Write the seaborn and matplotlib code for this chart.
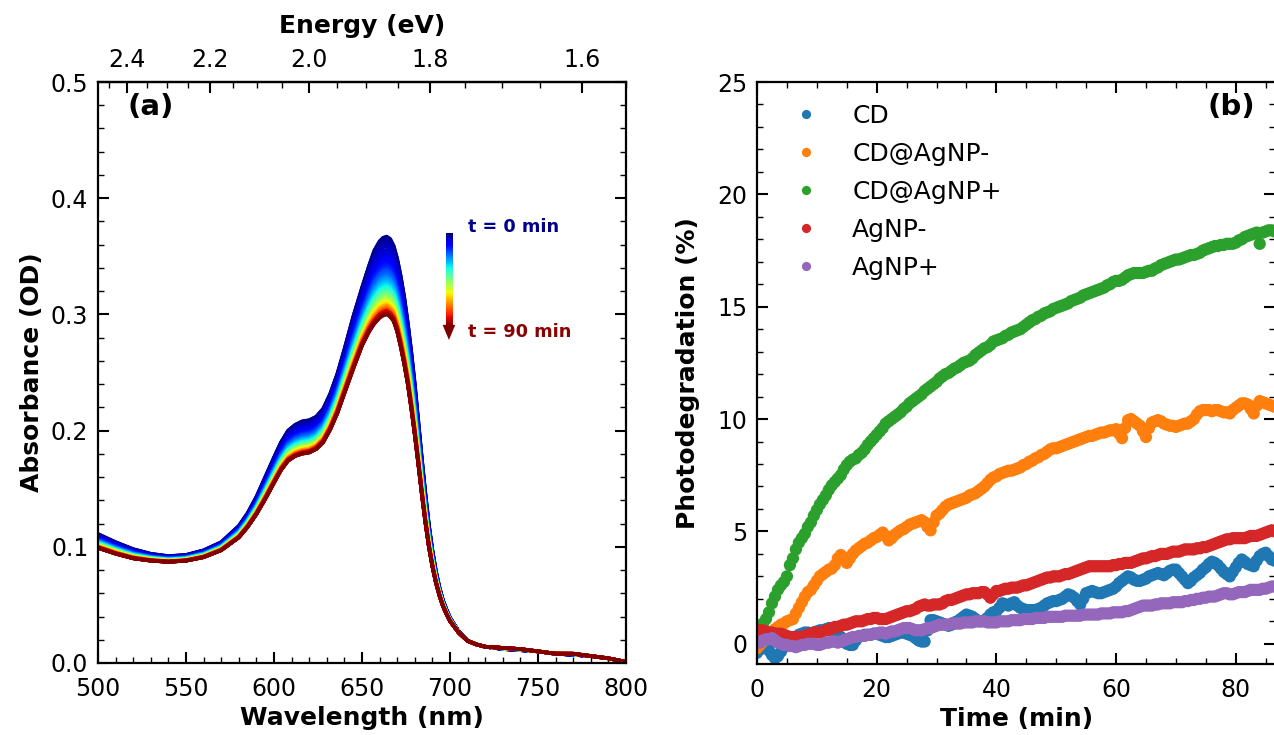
import numpy as np
import pandas as pd
import matplotlib
matplotlib.use("Agg")
import matplotlib.pyplot as plt
from matplotlib.ticker import MultipleLocator, FormatStrFormatter
from matplotlib.patches import Polygon
import seaborn as sns

# ---------------- data: panel (a) ----------------
wavelength = [500, 510, 520, 530, 540, 550, 560, 570, 580, 585, 590, 595, 600, 604, 608, 612,
              616, 620, 624, 628, 632, 636, 640, 645, 650, 654, 657, 660, 662, 664, 666, 668,
              670, 672, 674, 676, 678, 680, 682, 684, 686, 688, 690, 692, 694, 696, 698, 700,
              705, 710, 715, 720, 730, 740, 750, 760, 770, 780, 790, 800]
abs_t0 = [0.111, 0.104, 0.098, 0.094, 0.092, 0.093, 0.097, 0.104, 0.118, 0.129, 0.143, 0.160,
          0.177, 0.190, 0.200, 0.205, 0.208, 0.209, 0.212, 0.219, 0.232, 0.249, 0.270, 0.298,
          0.323, 0.342, 0.355, 0.363, 0.366, 0.367, 0.365, 0.359, 0.348, 0.333, 0.315, 0.293,
          0.268, 0.240, 0.208, 0.176, 0.146, 0.119, 0.097, 0.079, 0.065, 0.054, 0.046, 0.039,
          0.027, 0.019, 0.016, 0.014, 0.012, 0.011, 0.010, 0.008, 0.007, 0.006, 0.004, 0.001]
abs_t90 = [0.099, 0.094, 0.090, 0.088, 0.087, 0.088, 0.091, 0.097, 0.108, 0.117, 0.128, 0.141,
           0.155, 0.166, 0.174, 0.178, 0.180, 0.181, 0.184, 0.190, 0.201, 0.215, 0.232, 0.253,
           0.273, 0.285, 0.292, 0.297, 0.299, 0.300, 0.298, 0.294, 0.285, 0.272, 0.257, 0.240,
           0.219, 0.196, 0.171, 0.145, 0.121, 0.100, 0.083, 0.069, 0.058, 0.049, 0.042, 0.036,
           0.026, 0.019, 0.016, 0.014, 0.013, 0.012, 0.010, 0.008, 0.008, 0.006, 0.004, 0.001]

# ---------------- data: panel (b) (one reading every 0.5 min) ----------------
time_min = [i * 0.5 for i in range(181)]
cd = [
    -0.4, -0.25, -0.1, -0.15, -0.3, -0.5, -0.65, -0.55, -0.35, -0.15,
    0.0, 0.1, 0.2, 0.3, 0.4, 0.45, 0.5, 0.5, 0.45, 0.5,
    0.55, 0.6, 0.6, 0.65, 0.7, 0.6, 0.5, 0.4, 0.3, 0.15,
    0.0, -0.05, -0.05, 0.15, 0.3, 0.35, 0.4, 0.4, 0.4, 0.45,
    0.45, 0.4, 0.35, 0.3, 0.3, 0.35, 0.4, 0.45, 0.5, 0.5,
    0.45, 0.4, 0.35, 0.25, 0.15, 0.1, 0.1, 0.6, 1.05, 1.05,
    1.0, 0.95, 0.9, 0.85, 0.8, 0.85, 0.95, 1.0, 1.1, 1.2,
    1.3, 1.25, 1.2, 1.1, 1.0, 1.0, 1.05, 1.15, 1.3, 1.4,
    1.45, 1.6, 1.8, 1.75, 1.7, 1.8, 1.85, 1.7, 1.6, 1.55,
    1.5, 1.5, 1.5, 1.5, 1.55, 1.6, 1.7, 1.8, 1.85, 1.9,
    1.9, 1.95, 2.0, 2.1, 2.2, 2.15, 2.05, 1.9, 1.75, 2.0,
    2.25, 2.3, 2.35, 2.3, 2.25, 2.25, 2.3, 2.35, 2.4, 2.45,
    2.55, 2.7, 2.8, 2.9, 3.0, 2.95, 2.85, 2.8, 2.8, 2.85,
    2.9, 3.0, 3.05, 3.1, 3.15, 3.1, 3.05, 3.15, 3.25, 3.3,
    3.3, 3.15, 3.0, 2.85, 2.7, 2.8, 2.95, 3.05, 3.15, 3.3,
    3.4, 3.55, 3.65, 3.6, 3.5, 3.35, 3.2, 3.1, 3.0, 3.2,
    3.4, 3.6, 3.75, 3.65, 3.55, 3.5, 3.45, 3.7, 3.9, 4.0,
    4.05, 3.9, 3.75, 3.7, 3.65, 3.7, 3.8, 3.75, 3.7, 3.7,
    3.75]
cd_agnp_minus = [
    -0.2, -0.05, 0.1, 0.3, 0.4, 0.55, 0.65, 0.75, 0.85, 0.9,
    1.0, 1.05, 1.1, 1.35, 1.6, 1.85, 2.1, 2.3, 2.4, 2.6,
    2.8, 3.0, 3.1, 3.2, 3.3, 3.35, 3.5, 3.8, 3.95, 3.85,
    3.6, 3.8, 4.0, 4.15, 4.25, 4.35, 4.45, 4.5, 4.6, 4.7,
    4.75, 4.85, 4.95, 4.8, 4.6, 4.7, 4.85, 4.95, 5.05, 5.1,
    5.2, 5.3, 5.35, 5.4, 5.45, 5.5, 5.4, 5.2, 5.05, 5.4,
    5.7, 5.8, 5.95, 6.1, 6.2, 6.25, 6.3, 6.35, 6.4, 6.45,
    6.5, 6.6, 6.65, 6.7, 6.8, 6.9, 7.0, 7.15, 7.3, 7.4,
    7.45, 7.55, 7.6, 7.65, 7.7, 7.7, 7.75, 7.8, 7.85, 7.95,
    8.0, 8.1, 8.15, 8.25, 8.3, 8.4, 8.45, 8.55, 8.65, 8.7,
    8.7, 8.75, 8.8, 8.85, 8.9, 8.95, 9.0, 9.05, 9.1, 9.15,
    9.2, 9.25, 9.25, 9.3, 9.35, 9.4, 9.4, 9.45, 9.5, 9.5,
    9.55, 9.35, 9.15, 9.6, 9.95, 10.0, 9.9, 9.8, 9.7, 9.45,
    9.2, 9.6, 9.85, 9.9, 9.95, 9.9, 9.8, 9.75, 9.7, 9.7,
    9.65, 9.7, 9.75, 9.8, 9.8, 9.9, 10.0, 10.2, 10.35, 10.4,
    10.4, 10.4, 10.35, 10.4, 10.4, 10.35, 10.3, 10.3, 10.25, 10.4,
    10.5, 10.6, 10.7, 10.7, 10.65, 10.45, 10.25, 10.6, 10.8, 10.75,
    10.7, 10.65, 10.6, 10.55, 10.5, 10.6, 10.65, 10.7, 10.7, 10.65,
    10.6]
cd_agnp_plus = [
    0.8, 0.75, 0.9, 1.1, 1.4, 1.8, 2.1, 2.4, 2.6, 2.75,
    3.0, 3.5, 3.8, 4.2, 4.5, 4.7, 4.9, 5.2, 5.4, 5.7,
    5.95, 6.2, 6.4, 6.6, 6.85, 7.05, 7.2, 7.35, 7.5, 7.75,
    7.95, 8.1, 8.2, 8.25, 8.4, 8.5, 8.65, 8.85, 9.0, 9.15,
    9.3, 9.45, 9.6, 9.8, 9.9, 10.0, 10.1, 10.2, 10.3, 10.45,
    10.55, 10.7, 10.8, 10.9, 11.0, 11.1, 11.25, 11.35, 11.45, 11.55,
    11.65, 11.8, 11.9, 12.0, 12.05, 12.15, 12.25, 12.3, 12.4, 12.5,
    12.55, 12.6, 12.7, 12.85, 12.95, 13.05, 13.15, 13.2, 13.3, 13.45,
    13.5, 13.55, 13.6, 13.7, 13.75, 13.85, 13.9, 13.95, 14.0, 14.1,
    14.2, 14.3, 14.4, 14.45, 14.55, 14.6, 14.7, 14.75, 14.8, 14.9,
    14.95, 15.0, 15.05, 15.1, 15.15, 15.25, 15.3, 15.35, 15.4, 15.5,
    15.55, 15.6, 15.65, 15.7, 15.75, 15.8, 15.85, 15.95, 16.0, 16.1,
    16.15, 16.15, 16.2, 16.3, 16.4, 16.45, 16.5, 16.5, 16.5, 16.5,
    16.55, 16.6, 16.6, 16.7, 16.75, 16.85, 16.9, 16.95, 17.0, 17.05,
    17.1, 17.1, 17.15, 17.2, 17.25, 17.3, 17.3, 17.35, 17.4, 17.5,
    17.55, 17.6, 17.65, 17.7, 17.7, 17.75, 17.75, 17.8, 17.8, 17.8,
    17.85, 17.95, 18.0, 18.1, 18.15, 18.2, 18.25, 18.3, 17.8, 18.3,
    18.35, 18.4, 18.4, 18.35, 18.3, 18.4, 18.45, 18.5, 18.5, 18.55,
    18.6]
agnp_minus = [
    0.55, 0.6, 0.6, 0.55, 0.5, 0.5, 0.45, 0.45, 0.45, 0.4,
    0.35, 0.3, 0.3, 0.3, 0.3, 0.3, 0.35, 0.4, 0.45, 0.5,
    0.5, 0.5, 0.55, 0.6, 0.6, 0.7, 0.75, 0.75, 0.8, 0.85,
    0.85, 0.9, 0.95, 1.0, 1.0, 1.0, 1.05, 1.1, 1.1, 1.15,
    1.15, 1.1, 1.1, 1.1, 1.15, 1.2, 1.25, 1.3, 1.35, 1.4,
    1.45, 1.45, 1.5, 1.55, 1.65, 1.7, 1.75, 1.7, 1.7, 1.75,
    1.75, 1.75, 1.8, 1.9, 1.95, 1.95, 2.0, 2.05, 2.1, 2.15,
    2.2, 2.2, 2.25, 2.25, 2.25, 2.3, 2.3, 2.2, 2.05, 2.2,
    2.35, 2.35, 2.4, 2.45, 2.45, 2.5, 2.5, 2.5, 2.55, 2.6,
    2.6, 2.65, 2.7, 2.75, 2.8, 2.85, 2.9, 2.95, 2.95, 3.0,
    3.0, 3.0, 3.05, 3.1, 3.1, 3.15, 3.2, 3.25, 3.3, 3.35,
    3.4, 3.45, 3.45, 3.45, 3.45, 3.45, 3.45, 3.45, 3.45, 3.5,
    3.5, 3.55, 3.55, 3.6, 3.6, 3.6, 3.65, 3.7, 3.75, 3.8,
    3.8, 3.85, 3.9, 3.9, 3.95, 4.0, 4.0, 4.0, 4.05, 4.1,
    4.1, 4.1, 4.15, 4.2, 4.2, 4.2, 4.2, 4.25, 4.25, 4.3,
    4.3, 4.35, 4.4, 4.45, 4.5, 4.55, 4.6, 4.65, 4.65, 4.7,
    4.7, 4.7, 4.7, 4.7, 4.75, 4.8, 4.8, 4.8, 4.85, 4.9,
    4.95, 5.0, 5.05, 5.0, 5.0, 5.05, 5.1, 5.15, 5.15, 5.2,
    5.2]
agnp_plus = [
    0.1, 0.05, 0.15, 0.2, 0.2, 0.25, 0.15, 0.05, 0.0, -0.05,
    -0.05, -0.1, -0.1, -0.15, -0.1, -0.05, -0.05, 0.0, 0.0, 0.0,
    -0.05, -0.05, 0.0, 0.05, 0.05, 0.1, 0.1, 0.05, 0.1, 0.15,
    0.2, 0.25, 0.3, 0.3, 0.35, 0.35, 0.35, 0.4, 0.4, 0.45,
    0.45, 0.5, 0.5, 0.45, 0.5, 0.55, 0.55, 0.6, 0.65, 0.7,
    0.7, 0.7, 0.65, 0.6, 0.6, 0.6, 0.65, 0.7, 0.7, 0.75,
    0.8, 0.85, 0.85, 0.85, 0.85, 0.9, 0.9, 0.9, 0.9, 0.95,
    0.95, 0.95, 0.95, 1.0, 1.0, 1.0, 1.0, 0.95, 0.95, 0.95,
    0.95, 1.0, 1.0, 1.0, 1.0, 1.05, 1.05, 1.05, 1.05, 1.1,
    1.1, 1.1, 1.1, 1.15, 1.15, 1.15, 1.15, 1.2, 1.2, 1.2,
    1.2, 1.2, 1.2, 1.25, 1.25, 1.25, 1.25, 1.25, 1.25, 1.3,
    1.3, 1.3, 1.3, 1.3, 1.3, 1.35, 1.35, 1.35, 1.35, 1.4,
    1.4, 1.4, 1.4, 1.45, 1.45, 1.5, 1.55, 1.6, 1.65, 1.7,
    1.7, 1.7, 1.7, 1.75, 1.75, 1.8, 1.8, 1.8, 1.8, 1.85,
    1.85, 1.85, 1.85, 1.9, 1.9, 1.95, 1.95, 2.0, 2.0, 2.05,
    2.05, 2.1, 2.1, 2.1, 2.15, 2.2, 2.25, 2.25, 2.2, 2.2,
    2.25, 2.3, 2.3, 2.3, 2.35, 2.4, 2.4, 2.4, 2.4, 2.45,
    2.45, 2.5, 2.55, 2.55, 2.5, 2.5, 2.55, 2.6, 2.6, 2.6,
    2.6]
series_names = ["CD", "CD@AgNP-", "CD@AgNP+", "AgNP-", "AgNP+"]
all_series = [cd, cd_agnp_minus, cd_agnp_plus, agnp_minus, agnp_plus]
for s_ in all_series:
    assert len(s_) == len(time_min), len(s_)
assert len(abs_t0) == len(wavelength) == len(abs_t90)

# ---------------- style ----------------
sns.set_style("ticks")
plt.rcParams["font.family"] = ["DejaVu Sans"]
plt.rcParams.update({
    "text.color": "black", "axes.labelcolor": "black", "axes.edgecolor": "black",
    "xtick.color": "black", "ytick.color": "black",
    "xtick.direction": "in", "ytick.direction": "in",
    "xtick.top": True, "ytick.right": True,
    "xtick.major.size": 8, "ytick.major.size": 8,
    "xtick.minor.size": 4, "ytick.minor.size": 4,
    "xtick.major.width": 1.5, "ytick.major.width": 1.5,
    "xtick.minor.width": 1.0, "ytick.minor.width": 1.0,
    "xtick.major.pad": 10, "ytick.major.pad": 7,
    "axes.linewidth": 1.6,
    "xtick.labelsize": 17, "ytick.labelsize": 17,
})
jet = matplotlib.colormaps["jet"]

fig = plt.figure(figsize=(12.74, 7.35), dpi=100)
axa = fig.add_axes([98 / 1274, 1 - 663 / 735, (626 - 98) / 1274, (663 - 82) / 735])
axb = fig.add_axes([757 / 1274, 1 - 664 / 735, 1 - 757 / 1274 + 0.001, (664 - 82) / 735])

# ---------------- panel (a) ----------------
t0 = np.array(abs_t0)
t90 = np.array(abs_t90)
g = np.array(cd_agnp_plus[::2])          # degradation at each whole minute
frac = (g - g[0]) / (g[-1] - g[0])
rows = []
for ti, f in zip(range(0, 91), frac):
    spec = t0 + (t90 - t0) * f
    for w, a in zip(wavelength, spec):
        rows.append((w, a, ti))
df_a = pd.DataFrame(rows, columns=["wl", "absorb", "t"])
sns.lineplot(data=df_a, x="wl", y="absorb", hue="t", palette=jet, hue_norm=(0, 90),
             legend=False, ax=axa, lw=2.6, estimator=None, sort=False)

axa.set_xlim(500, 800)
axa.set_ylim(0, 0.5)
axa.xaxis.set_major_locator(MultipleLocator(50))
axa.xaxis.set_minor_locator(MultipleLocator(10))
axa.yaxis.set_major_locator(MultipleLocator(0.1))
axa.yaxis.set_minor_locator(MultipleLocator(0.02))
axa.yaxis.set_major_formatter(FormatStrFormatter("%.1f"))
axa.tick_params(which="both", top=False)
axa.set_xlabel("Wavelength (nm)", fontsize=18, fontweight="bold", labelpad=4)
axa.set_ylabel("Absorbance (OD)", fontsize=18, fontweight="bold", labelpad=5)
axa.text(0.1, 0.957, "(a)", transform=axa.transAxes, fontsize=21, fontweight="bold",
         ha="center", va="center")


def nm2ev(x):
    x = np.asarray(x, dtype=float)
    with np.errstate(divide="ignore"):
        return 1239.84 / x


secax = axa.secondary_xaxis("top", functions=(nm2ev, nm2ev))
secax.xaxis.set_major_locator(MultipleLocator(0.2))
secax.xaxis.set_minor_locator(MultipleLocator(0.05))
secax.xaxis.set_major_formatter(FormatStrFormatter("%.1f"))
secax.tick_params(which="both", direction="in", colors="black")
secax.tick_params(which="major", length=8, width=1.5, labelsize=17, pad=7)
secax.tick_params(which="minor", length=4, width=1.0)
secax.set_xlabel("Energy (eV)", fontsize=18, fontweight="bold", labelpad=11)

# time arrow (gradient bar)
grad = np.linspace(0, 1, 100).reshape(-1, 1)
axa.imshow(grad, cmap=jet, extent=(697.6, 701.2, 0.290, 0.370), aspect="auto",
           origin="upper", zorder=3)
axa.add_patch(Polygon([[695.8, 0.291], [703.0, 0.291], [699.4, 0.278]], closed=True,
                      facecolor="#800000", edgecolor="none", zorder=3))
axa.text(710, 0.375, "t = 0 min", color="#00008b", fontsize=12.7, fontweight="bold",
         ha="left", va="center")
axa.text(710, 0.285, "t = 90 min", color="#8b0000", fontsize=12.7, fontweight="bold",
         ha="left", va="center")

# ---------------- panel (b) ----------------
rows_b = []
for name, vals in zip(series_names, all_series):
    for ti, v in zip(time_min, vals):
        rows_b.append((ti, v, name))
df_b = pd.DataFrame(rows_b, columns=["time", "deg", "sample"])
sns.scatterplot(data=df_b, x="time", y="deg", hue="sample", hue_order=series_names,
                palette="tab10", s=78, linewidth=0, ax=axb)

axb.set_xlim(0, 86.6)
axb.set_ylim(-0.9, 25)
axb.xaxis.set_major_locator(MultipleLocator(20))
axb.xaxis.set_minor_locator(MultipleLocator(5))
axb.yaxis.set_major_locator(MultipleLocator(5))
axb.yaxis.set_minor_locator(MultipleLocator(1))
axb.set_xlabel("Time (min)", fontsize=18, fontweight="bold", labelpad=4)
axb.set_ylabel("Photodegradation (%)", fontsize=18, fontweight="bold", labelpad=12)
axb.text(0.915, 0.957, "(b)", transform=axb.transAxes, fontsize=21, fontweight="bold",
         ha="center", va="center")
leg = axb.legend(loc="upper left", bbox_to_anchor=(0.07, 0.962), frameon=False,
                 borderaxespad=0, borderpad=0,
                 fontsize=18, handletextpad=1.36, labelspacing=0.56, markerscale=0.75,
                 handlelength=1.0)

fig.savefig("out.png", dpi=100)
